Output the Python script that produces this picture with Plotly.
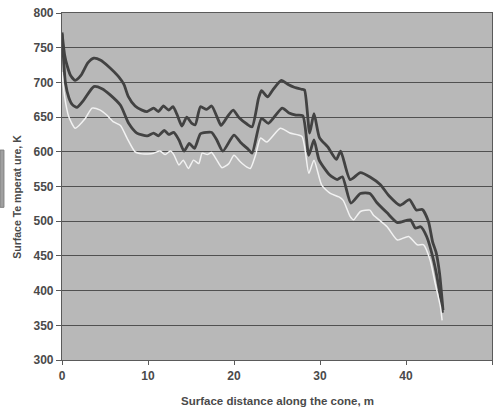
import plotly.graph_objects as go

# Distance along the cone (m) and surface temperature (K) for three curves
top_d = [0, 0.3, 0.6, 1.0, 1.55, 2.2, 3.0, 3.7, 4.5, 5.4, 6.6, 7.2, 7.7, 8.5, 9.3, 9.9,
         10.65, 11.2, 11.8, 12.4, 12.9, 13.4, 13.95, 14.5, 15.1, 15.5, 16.1, 16.8, 17.4,
         18.0, 18.5, 19.2, 19.9, 20.6, 21.5, 22.1, 22.85, 23.2, 23.9, 24.5, 25.5, 26.3,
         27.0, 27.9, 28.2, 28.8, 29.3, 29.95, 30.9, 31.9, 32.4, 33.5, 34.7, 35.9, 37.0,
         38.0, 39.3, 40.4, 41.2, 41.9, 42.6, 43.1, 43.5, 43.9, 44.3]
top_t = [772, 740, 724, 710, 703, 710, 728, 735, 732, 723, 708, 697, 680, 666, 660, 658,
         663, 658, 666, 660, 665, 653, 637, 650, 641, 639, 665, 661, 666,
         651, 638, 650, 660, 649, 640, 636, 677, 688, 679, 689, 703, 697,
         693, 690, 689, 627, 655, 620, 607, 589, 601, 560, 570, 563, 553,
         537, 523, 531, 516, 517, 500, 470, 455, 425, 372]

mid_d = [0, 0.2, 0.4, 0.8, 1.2, 1.75, 2.5, 3.7, 4.65, 5.6, 6.8, 7.75, 8.7, 9.9, 10.65,
         11.2, 11.9, 12.4, 13.0, 13.6, 14.2, 14.8, 15.4, 16.1, 16.8, 17.4, 18.0, 18.7,
         20.0, 20.8, 21.7, 22.1, 23.2, 24.0, 25.6, 26.4, 27.2, 28.0, 28.7, 29.3, 29.9,
         31.1, 32.0, 32.6, 33.6, 34.7, 35.8, 36.6, 37.8, 39.0, 40.5, 41.1, 41.7, 42.4,
         43.2, 43.8, 44.25]
mid_t = [770, 730, 699, 678, 668, 664, 674, 694, 691, 682, 667, 641, 627, 623, 627,
         623, 631, 625, 628, 617, 601, 612, 605, 626, 628, 628, 617, 601,
         624, 613, 603, 598, 648, 641, 663, 656, 653, 652, 595, 617, 588,
         567, 560, 564, 526, 540, 540, 527, 512, 498, 502, 490, 492, 478,
         444, 406, 368]

low_d = [0, 0.3, 0.8, 1.55, 2.7, 3.5, 4.45, 5.2, 6.0, 6.8, 7.55, 8.5, 9.3, 10.0, 10.65,
         11.4, 12.0, 12.6, 13.0, 13.6, 14.1, 14.7, 15.3, 15.9, 16.3, 16.9, 17.4, 18.0,
         18.6, 19.4, 20.0, 20.7, 21.5, 21.9, 22.5, 23.1, 23.8, 25.4, 26.5, 27.9, 28.7,
         29.3, 30.2, 31.2, 32.2, 32.7, 33.5, 33.9, 34.7, 35.8, 36.2, 37.8, 39.0, 40.3,
         41.3, 42.05, 42.8, 43.4, 44.0, 44.2]
low_t = [715, 680, 650, 634, 648, 663, 660, 653, 643, 638, 620, 600, 597, 597, 598,
         601, 596, 601, 596, 581, 588, 576, 588, 583, 598, 596, 599, 588,
         577, 583, 595, 586, 578, 576, 595, 620, 614, 634, 627, 622, 569,
         588, 552, 540, 535, 530, 507, 502, 514, 516, 509, 492, 473, 478,
         466, 466, 444, 410, 377, 357]

x_ticks = [0, 10, 20, 30, 40, 50]
y_ticks = [300, 350, 400, 450, 500, 550, 600, 650, 700, 750, 800]

fig = go.Figure()
fig.add_trace(go.Scatter(x=top_d, y=top_t, mode="lines",
                         line=dict(color="#424242", width=2.8, shape="spline", smoothing=0.6)))
fig.add_trace(go.Scatter(x=mid_d, y=mid_t, mode="lines",
                         line=dict(color="#424242", width=2.8, shape="spline", smoothing=0.6)))
fig.add_trace(go.Scatter(x=low_d, y=low_t, mode="lines",
                         line=dict(color="#f2f2f2", width=1.5, shape="spline", smoothing=0.6)))

FONT = "Liberation Sans, Arial, sans-serif"
tickfont = dict(family=FONT, size=12, color="#4a4a4a", weight="bold")

fig.update_layout(
    width=496, height=410,
    margin=dict(l=62, r=4, t=13, b=50, autoexpand=False),
    paper_bgcolor="white",
    plot_bgcolor="#b8b8b8",
    showlegend=False,
    xaxis=dict(range=[0, 50], tickvals=x_ticks, showgrid=False, zeroline=False,
               automargin=False,
               showline=True, linecolor="#5a5a5a", linewidth=1.2, mirror=True,
               ticks="outside", ticklen=4, tickcolor="#5a5a5a", tickfont=tickfont),
    yaxis=dict(range=[300, 800], tickvals=y_ticks, showgrid=True, gridcolor="#505050",
               gridwidth=1.4, zeroline=False, automargin=False,
               showline=True, linecolor="#5a5a5a", linewidth=1.2, mirror=True,
               ticks="outside", ticklen=5, tickcolor="#5a5a5a", tickfont=tickfont),
)

fig.add_annotation(text="Surface distance along the cone, m", xref="paper", yref="paper",
                   x=0.5, y=-0.118, yanchor="middle", showarrow=False,
                   font=dict(family=FONT, size=11.5, color="#4a4a4a", weight="bold"))
fig.add_annotation(text="Surface Te mperat ure, K", xref="paper", yref="paper",
                   x=-0.105, xanchor="center", y=0.47, yanchor="middle", textangle=-90,
                   showarrow=False,
                   font=dict(family=FONT, size=10.5, color="#4a4a4a", weight="bold"))
# small grey scan artefact at the left edge
fig.add_shape(type="rect", xref="paper", yref="paper", x0=-0.144, x1=-0.135,
              y0=0.44, y1=0.605, fillcolor="#a0a0a0", line=dict(color="#808080", width=1))

fig.write_html("out.html", config={"displayModeBar": False},
               post_script="document.body.style.margin='0';document.body.style.overflow='hidden';")
